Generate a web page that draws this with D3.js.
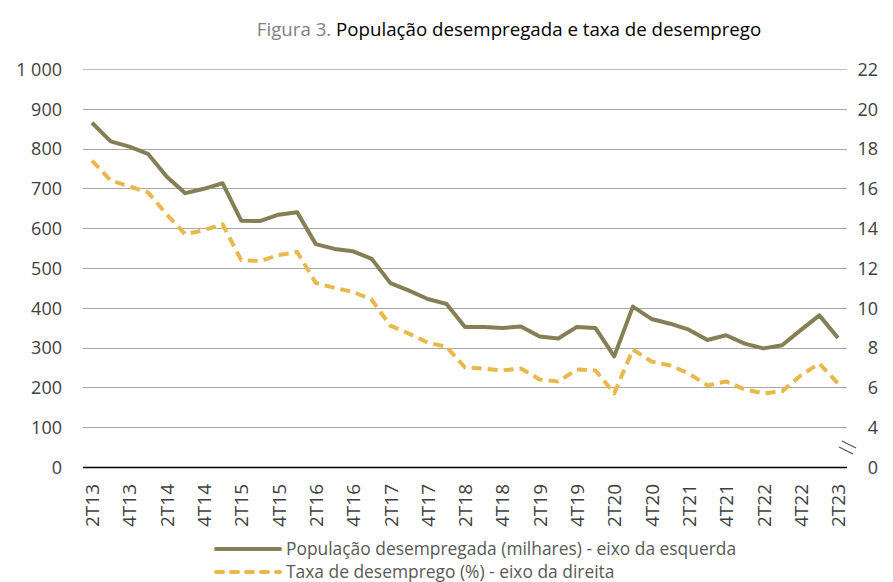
<!DOCTYPE html>
<html>
<head>
<meta charset="utf-8">
<script src="https://cdn.jsdelivr.net/npm/d3@7"></script>
<style>
  body { margin: 0; background: #ffffff; }
  svg { display: block; }
</style>
</head>
<body>
<svg id="chart" width="893" height="582"></svg>
<script>
// trimestres, 2T13 a 2T23
var quarters = ["2T13","3T13","4T13","1T14","2T14","3T14","4T14","1T15","2T15","3T15","4T15",
    "1T16","2T16","3T16","4T16","1T17","2T17","3T17","4T17","1T18","2T18","3T18","4T18",
    "1T19","2T19","3T19","4T19","1T20","2T20","3T20","4T20","1T21","2T21","3T21","4T21",
    "1T22","2T22","3T22","4T22","1T23","2T23"];

// população desempregada (milhares) - eixo da esquerda
var populacao = [865, 818, 805, 787, 730, 688, 699, 713, 619, 618, 634,
    640, 560, 548, 542, 523, 462, 443, 422, 410, 352, 352, 349,
    353, 328, 323, 352, 349, 278, 403, 372, 360, 345, 319, 331,
    310, 298, 306, 344, 381, 324];

// taxa de desemprego (%) - eixo da direita
var taxa = [17.4, 16.4, 16.1, 15.8, 14.7, 13.7, 13.9, 14.2, 12.4, 12.35, 12.65,
    12.8, 11.25, 11.0, 10.8, 10.4, 9.1, 8.7, 8.25, 8.05, 7.0, 6.95, 6.85,
    6.95, 6.4, 6.3, 6.9, 6.85, 5.7, 7.9, 7.3, 7.1, 6.7, 6.1, 6.3,
    5.9, 5.7, 5.8, 6.6, 7.2, 6.2];

var leftTicks = [0, 100, 200, 300, 400, 500, 600, 700, 800, 900, 1000];
var rightTicks = [2, 4, 6, 8, 10, 12, 14, 16, 18, 20, 22];

var seriesNames = ["População desempregada (milhares) - eixo da esquerda",
    "Taxa de desemprego (%) - eixo da direita"];

var svg = d3.select("#chart");
var font = "'Open Sans', sans-serif";
var olive = "#857f55",
    gold = "#e9b84c",
    labelColor = "#404040";

var plotLeft = 83, plotRight = 847,
    plotTop = 69, plotBottom = 467;

var x = d3.scalePoint()
    .domain(quarters)
    .range([92, 838]);

var yL = d3.scaleLinear()
    .domain([0, 1000])
    .range([plotBottom, plotTop]);

// eixo da direita com quebra: o fundo corresponde a 2 mas mostra "0"
var yR = d3.scaleLinear()
    .domain([2, 22])
    .range([plotBottom, plotTop]);

// titulo
var title = svg.append("text")
    .attr("x", 509)
    .attr("y", 36)
    .attr("text-anchor", "middle")
    .attr("font-family", font)
    .attr("font-size", "18.7px");
title.append("tspan").attr("fill", "#808080").text("Figura 3. ");
title.append("tspan").attr("fill", "#000000").text("População desempregada e taxa de desemprego");

// linhas de grelha
svg.append("g").attr("class", "grid")
    .selectAll("line")
    .data(leftTicks.filter(function(d){ return d > 0; }))
    .enter()
    .append("line")
    .attr("x1", plotLeft)
    .attr("x2", plotRight)
    .attr("y1", function(d){ return Math.round(yL(d)) + 0.5; })
    .attr("y2", function(d){ return Math.round(yL(d)) + 0.5; })
    .attr("stroke", function(d){ return d === 1000 ? "#bfbfbf" : "#a6a6a6"; })
    .attr("stroke-width", 1.2);

// eixo do zero
svg.append("line")
    .attr("x1", plotLeft)
    .attr("x2", plotRight)
    .attr("y1", Math.round(yL(0)) + 0.5)
    .attr("y2", Math.round(yL(0)) + 0.5)
    .attr("stroke", "#000000")
    .attr("stroke-width", 1.3);

// eixo esquerdo
var fmtLeft = function(d){ return d >= 1000 ? "1 000" : d3.format("d")(d); };
var leftAxis = svg.append("g")
    .attr("transform", "translate(" + 62 + ",0)")
    .call(d3.axisLeft(yL).tickValues(leftTicks).tickFormat(fmtLeft).tickSize(0).tickPadding(0));
leftAxis.select(".domain").remove();
leftAxis.selectAll("text")
    .attr("font-family", font)
    .attr("font-size", "18px")
    .attr("fill", labelColor)
    .attr("dy", "0.35em");

// eixo direito (rotulos alinhados a direita)
var rightAxis = svg.append("g")
    .attr("transform", "translate(" + 878 + ",0)")
    .call(d3.axisRight(yR).tickValues(rightTicks)
        .tickFormat(function(d){ return d === 2 ? "0" : d; })
        .tickSize(0).tickPadding(0));
rightAxis.select(".domain").remove();
rightAxis.selectAll("text")
    .attr("font-family", font)
    .attr("font-size", "18px")
    .attr("fill", labelColor)
    .attr("text-anchor", "end")
    .attr("dy", "0.35em");

// simbolo de quebra do eixo
var brk = svg.append("g").attr("class", "break");
[0, 1].forEach(function(i){
    brk.append("line")
        .attr("x1", 842 - i * 3)
        .attr("y1", 441 + i * 6)
        .attr("x2", 856 - i * 3)
        .attr("y2", 448 + i * 6)
        .attr("stroke", "#595959")
        .attr("stroke-width", 1.3);
});

// eixo x (rotulos rodados)
var xAxis = svg.append("g")
    .attr("transform", "translate(0," + 484 + ")")
    .call(d3.axisBottom(x)
        .tickValues(quarters.filter(function(d, i){ return i % 2 === 0; }))
        .tickSize(0).tickPadding(0));
xAxis.select(".domain").remove();
xAxis.selectAll("text")
    .attr("font-family", font)
    .attr("font-size", "19px")
    .attr("fill", labelColor)
    .attr("transform", "rotate(-90)")
    .attr("text-anchor", "end")
    .attr("x", 0)
    .attr("y", 0)
    .attr("dy", "0.35em");

// series
var linePop = d3.line()
    .x(function(d, i){ return x(quarters[i]); })
    .y(function(d){ return yL(d); });

var lineTaxa = d3.line()
    .x(function(d, i){ return x(quarters[i]); })
    .y(function(d){ return yR(d); });

svg.append("path")
    .datum(taxa)
    .attr("d", lineTaxa)
    .attr("fill", "none")
    .attr("stroke", gold)
    .attr("stroke-width", 4)
    .attr("stroke-dasharray", "10,6")
    .attr("stroke-linejoin", "round");

svg.append("path")
    .datum(populacao)
    .attr("d", linePop)
    .attr("fill", "none")
    .attr("stroke", olive)
    .attr("stroke-width", 4)
    .attr("stroke-linejoin", "round");

// legenda
var legend = svg.append("g").attr("class", "legend");
var legendY = [549, 572];
seriesNames.forEach(function(name, i){
    legend.append("line")
        .attr("x1", 216)
        .attr("x2", 280)
        .attr("y1", legendY[i])
        .attr("y2", legendY[i])
        .attr("stroke", i === 0 ? olive : gold)
        .attr("stroke-width", 4)
        .attr("stroke-linecap", "round")
        .attr("stroke-dasharray", i === 0 ? null : "7,8");
    legend.append("text")
        .attr("x", 286)
        .attr("y", legendY[i])
        .attr("dy", "0.35em")
        .attr("font-family", font)
        .attr("font-size", "17.4px")
        .attr("fill", "#595959")
        .text(name);
});
</script>
</body>
</html>
